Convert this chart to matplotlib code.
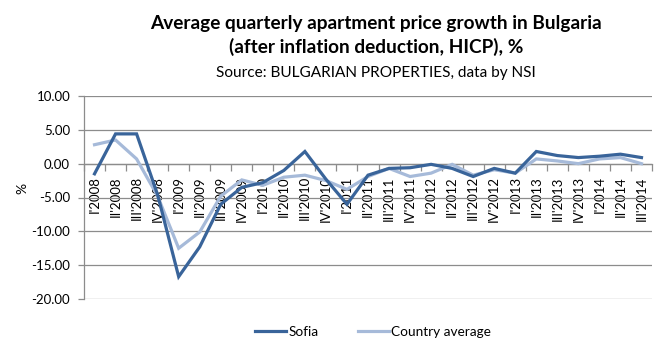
import numpy as np
import matplotlib.pyplot as plt
from matplotlib.ticker import MultipleLocator, FixedLocator, FormatStrFormatter

plt.rcParams['font.family'] = ['Lato', 'DejaVu Sans']

quarters = ["I'2008", "II'2008", "III'2008", "IV'2008",
            "I'2009", "II'2009", "III'2009", "IV'2009",
            "I'2010", "II'2010", "III'2010", "IV'2010",
            "I'2011", "II'2011", "III'2011", "IV'2011",
            "I'2012", "II'2012", "III'2012", "IV'2012",
            "I'2013", "II'2013", "III'2013", "IV'2013",
            "I'2014", "II'2014", "III'2014"]

sofia = [-1.5, 4.4, 4.4, -4.6, -16.7, -12.3, -6.0, -3.5,
         -2.8, -1.0, 1.8, -2.3, -6.0, -1.7, -0.7, -0.6,
         -0.1, -0.7, -1.9, -0.7, -1.4, 1.8, 1.2, 0.9,
         1.1, 1.4, 0.9]

country = [2.8, 3.5, 0.7, -4.8, -12.5, -10.1, -4.8, -2.4,
           -3.2, -2.0, -1.7, -2.5, -3.8, -1.9, -0.7, -1.9,
           -1.4, -0.1, -1.7, -0.9, -1.4, 0.7, 0.4, 0.0,
           0.7, 0.9, 0.0]

dark = '#39649A'
light = '#A6BAD9'
grid = '#8C8C8C'

fig = plt.figure(figsize=(6.64, 3.45), dpi=100)
ax = fig.add_axes([84/664, 1-299/345, (652-84)/664, (299-96)/345])

x = np.arange(len(quarters))
ax.plot(x, sofia, color=dark, lw=2.3, label='Sofia', zorder=4, solid_joinstyle='miter')
ax.plot(x, country, color=light, lw=2.3, label='Country average', zorder=3, solid_joinstyle='miter')

ax.set_xlim(-0.5, len(quarters) - 0.5)
ax.set_ylim(-20, 10)

# horizontal gridlines
ax.yaxis.set_major_locator(MultipleLocator(5))
ax.yaxis.set_major_formatter(FormatStrFormatter('%.2f'))
ax.grid(axis='y', color=grid, lw=0.9)
ax.set_axisbelow(True)

for s in ['top', 'right']:
    ax.spines[s].set_visible(False)
ax.spines['left'].set_color(grid)
ax.spines['left'].set_linewidth(0.9)
ax.spines['bottom'].set_position(('data', 0))
ax.spines['bottom'].set_color(grid)
ax.spines['bottom'].set_linewidth(0.9)

ax.tick_params(axis='y', length=4, width=0.9, color=grid, pad=6, labelsize=9.5, labelcolor='#000000')

# category labels at centres, tick marks between categories
ax.set_xticks(x)
ax.set_xticklabels(quarters, rotation=90, fontsize=9.5, va='top', ha='center')
ax.tick_params(axis='x', which='major', length=0, pad=9)
ax.xaxis.set_minor_locator(FixedLocator(np.arange(-0.5, len(quarters), 1)))
ax.tick_params(axis='x', which='minor', length=5, width=0.9, color=grid, direction='out')

fig.text(22/664, 1-188/345, '%', rotation=90, fontsize=10, ha='center', va='center')

cx = 376/664
fig.text(cx, 1-29/345, 'Average quarterly apartment price growth in Bulgaria',
         ha='center', va='baseline', fontsize=13.7, fontweight='bold')
fig.text(cx, 1-53/345, '(after inflation deduction, HICP), %',
         ha='center', va='baseline', fontsize=13.7, fontweight='bold')
fig.text(cx, 1-77/345, 'Source: BULGARIAN PROPERTIES, data by NSI',
         ha='center', va='baseline', fontsize=11.1)

fig.legend(loc='center', bbox_to_anchor=(373/664, 1-332/345), ncol=2, frameon=False,
           fontsize=9.8, handlelength=2.3, handletextpad=0.15, columnspacing=2.9)

fig.savefig('out.png', dpi=100)
